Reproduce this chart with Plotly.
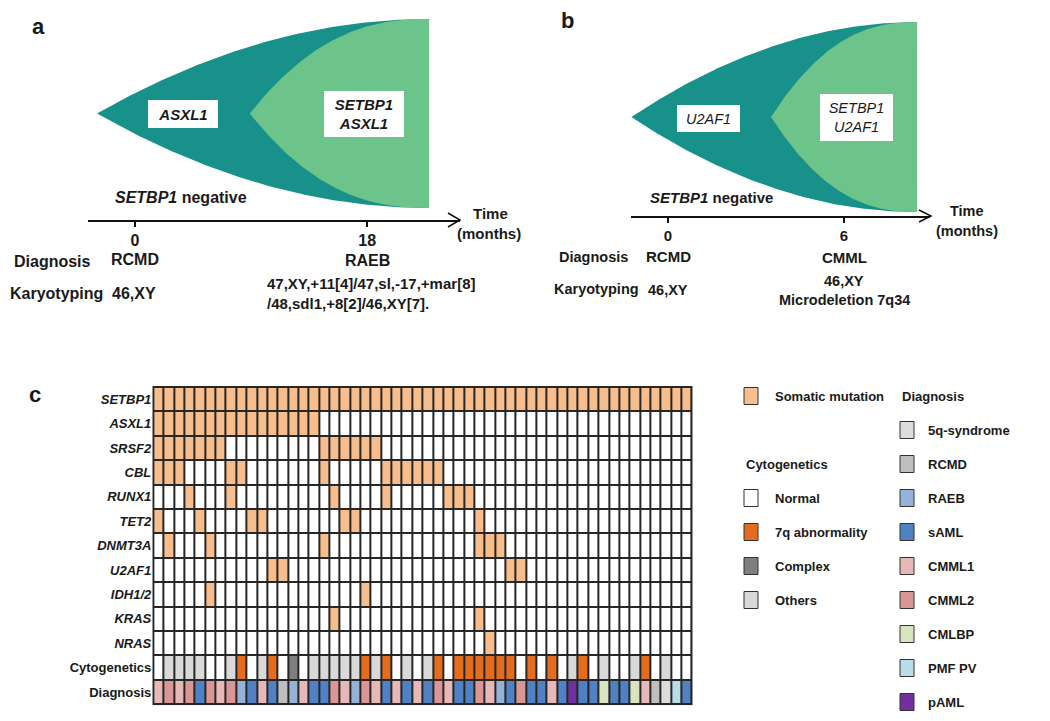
import plotly.graph_objects as go

# The page body has an 8px margin; coordinates below are screen pixels.
OX, OY = 8, 8
W, H = 1050 - OX, 721 - OY
FONT = "Liberation Sans, Arial, sans-serif"
INK = "#1a1a1a"

# ---------------- data: panel c (52 patients) ----------------
genes = ["SETBP1", "ASXL1", "SRSF2", "CBL", "RUNX1", "TET2",
         "DNMT3A", "U2AF1", "IDH1/2", "KRAS", "NRAS"]
# 1 = somatic mutation, 0 = wild type (patients in groups of 10)
mut_SETBP1 = "1111111111 1111111111 1111111111 1111111111 1111111111 11"
mut_ASXL1  = "1111111111 1111110000 0000000000 0000000000 0000000000 00"
mut_SRSF2  = "1111111000 0000001111 1100000000 0000000000 0000000000 00"
mut_CBL    = "1110000110 0000001000 0011111100 0000000000 0000000000 00"
mut_RUNX1  = "0001000100 0000000100 0010000011 1000000000 0000000000 00"
mut_TET2   = "1000100001 1000000011 0000000000 0100000000 0000000000 00"
mut_DNMT3A = "0100010000 0000001000 0000000000 0111000000 0000000000 00"
mut_U2AF1  = "0000000000 0110000000 0000000000 0000110000 0000000000 00"
mut_IDH    = "0000010000 0000000000 1000000000 0000000000 0000000000 00"
mut_KRAS   = "0000000000 0000000100 0000000000 0100000000 0000000000 00"
mut_NRAS   = "0000000000 0000000000 0000000000 0010000000 0000000000 00"
mutations = [mut_SETBP1, mut_ASXL1, mut_SRSF2, mut_CBL, mut_RUNX1, mut_TET2,
             mut_DNMT3A, mut_U2AF1, mut_IDH, mut_KRAS, mut_NRAS]

# cytogenetics: N normal, Q 7q abnormality, C complex, O others
cytogenetics = ("NOOOONNOQN" "OQNCNOOOOO" "QOQNONOQNQ"
                "QQQQQNQNQN" "OQNONNOQNO" "NN")
diagnosis = ["CMML1", "CMML2", "CMML1", "CMML2", "sAML", "CMML2", "CMML1", "CMML2", "RAEB", "sAML",
             "CMML1", "sAML", "RCMD", "RAEB", "CMML1", "sAML", "sAML", "CMML2", "CMML1", "RAEB",
             "CMML2", "CMML1", "sAML", "CMML1", "sAML", "CMML1", "sAML", "CMML2", "CMML1", "sAML",
             "sAML", "CMML2", "CMML1", "RAEB", "sAML", "CMML2", "sAML", "sAML", "CMML1", "sAML",
             "pAML", "sAML", "sAML", "CMLBP", "sAML", "sAML", "CMLBP", "CMML1", "RCMD", "5q-syndrome",
             "PMF PV", "sAML"]

mut_color = "#F7BD8C"
cyto_labels = ["Normal", "7q abnormality", "Complex", "Others"]
cyto_codes = ["N", "Q", "C", "O"]
cyto_colors = ["#FFFFFF", "#E46C1E", "#7F7F7F", "#D9D9D9"]
diag_labels = ["5q-syndrome", "RCMD", "RAEB", "sAML", "CMML1", "CMML2", "CMLBP", "PMF PV", "pAML"]
diag_colors = ["#DCDCDC", "#BFBFBF", "#95B3D7", "#4F81C4", "#E6B9B8", "#D99694",
               "#D7E4BD", "#B7DEE8", "#7030A0"]

# ---------------- data: panels a and b (clonal evolution) ----------------
a_ticks = [0, 18]
a_diag = ["RCMD", "RAEB"]
a_karyo = ["46,XY", "47,XY,+11[4]/47,sl,-17,+mar[8]", "/48,sdl1,+8[2]/46,XY[7]."]
a_clone_start = [-2.95, 8.9]     # months: ASXL1 clone, SETBP1+ASXL1 clone
a_end = 22.8
a_clones = ["<b><i>ASXL1</i></b>", "<b><i>SETBP1</i></b><br><b><i>ASXL1</i></b>"]

b_ticks = [0, 6]
b_diag = ["RCMD", "CMML"]
b_karyo = ["46,XY", "46,XY", "Microdeletion 7q34"]
b_clone_start = [-1.25, 3.51]    # months: U2AF1 clone, SETBP1+U2AF1 clone
b_end = 8.49
b_clones = ["<i>U2AF1</i>", "<i>SETBP1</i><br><i>U2AF1</i>"]

TEAL = "#17918A"
GREEN = "#6DC48B"


def px(x):
    return (x - OX) / W


def py(y):
    return 1 - (y - OY) / H


def fish(t0, t1, p, n=120):
    xs = [t0 + (t1 - t0) * i / n for i in range(n + 1)]
    up = [1 - (1 - (x - t0) / (t1 - t0)) ** p for x in xs]
    return xs + xs[::-1], up + [-u for u in up[::-1]]


fig = go.Figure()

# invisible full-figure pixel axis for annotations / legend
fig.add_trace(go.Scatter(x=[OX], y=[OY], mode="markers", marker=dict(opacity=0),
                         hoverinfo="skip", showlegend=False, xaxis="x", yaxis="y"))

# fish plots
for (starts, end, xa, ya) in [(a_clone_start, a_end, "x2", "y2"),
                              (b_clone_start, b_end, "x3", "y3")]:
    X, Y = fish(starts[0], end, 2.0)
    fig.add_trace(go.Scatter(x=X, y=Y, fill="toself", fillcolor=TEAL, mode="lines",
                             line=dict(width=0, color=TEAL), hoverinfo="skip",
                             showlegend=False, xaxis=xa, yaxis=ya))
    X, Y = fish(starts[1], end, 2.4)
    fig.add_trace(go.Scatter(x=X, y=Y, fill="toself", fillcolor=GREEN, mode="lines",
                             line=dict(width=0, color=GREEN), hoverinfo="skip",
                             showlegend=False, xaxis=xa, yaxis=ya))

# heatmap
color_list = ["#FFFFFF", mut_color] + cyto_colors[1:] + diag_colors
code_of = {"none": 0, "mut": 1}
for c in cyto_codes[1:]:
    code_of["cyto_" + c] = len(code_of)
for lab in diag_labels:
    code_of["diag_" + lab] = len(code_of)
code_of["cyto_N"] = 0

z = []
for m in mutations:
    s = m.replace(" ", "")
    z.append([1 if ch == "1" else 0 for ch in s])
z.append([code_of["cyto_" + ch] for ch in cytogenetics])
z.append([code_of["diag_" + d] for d in diagnosis])

n = len(color_list)
cscale = []
for k, c in enumerate(color_list):
    cscale.append([k / n, c])
    cscale.append([(k + 1) / n, c])

row_names = genes + ["Cytogenetics", "Diagnosis"]
npat = len(diagnosis)
nrow = len(row_names)
fig.add_trace(go.Heatmap(z=z, x=list(range(npat)), y=list(range(nrow)),
                         colorscale=cscale, zmin=-0.5, zmax=n - 0.5, showscale=False,
                         xgap=2, ygap=2, hoverinfo="skip", xaxis="x4", yaxis="y4"))

shapes = []
ann = []

# dark grid behind heatmap (shows through the cell gaps)
shapes.append(dict(type="rect", xref="x4", yref="y4", x0=-0.6, x1=npat - 0.4,
                   y0=-0.54, y1=nrow - 0.46,
                   fillcolor="#262626", line=dict(width=0), layer="below"))


def T(x, y, s, size=15, xanchor="left", color=INK):
    ann.append(dict(x=x, y=y, xref="x", yref="y", text=s, showarrow=False,
                    xanchor=xanchor, yanchor="middle",
                    font=dict(size=size, family=FONT, color=color)))


def box(x, y, s, w, h, size=15):
    ann.append(dict(x=x, y=y, xref="x", yref="y", text=s, showarrow=False,
                    xanchor="center", yanchor="middle", width=w, height=h,
                    bgcolor="white", borderpad=0, borderwidth=0, align="center",
                    font=dict(size=size, family=FONT, color=INK)))


# ---- panel a text ----
T(38, 26, "<b>a</b>", 22, "center")
box(183, 114, a_clones[0], 70, 28)
box(364, 114, a_clones[1], 80, 46)
T(113, 197, "<b><i>SETBP1</i> negative</b>", 16)
T(490, 213, "<b>Time</b>", 15, "center")
T(489, 233, "<b>(months)</b>", 15, "center")
T(12, 261, "<b>Diagnosis</b>", 16)
T(135, 259, "<b>%s</b>" % a_diag[0], 16, "center")
T(367, 260, "<b>%s</b>" % a_diag[1], 16, "center")
T(8, 293, "<b>Karyotyping</b>", 16)
T(110, 293, "<b>%s</b>" % a_karyo[0], 16)
T(265, 283, "<b>%s</b>" % a_karyo[1], 15)
T(265, 303, "<b>%s</b>" % a_karyo[2], 15)
shapes.append(dict(type="path", xref="x", yref="y", path="M 448,213 L 460,220 L 448,227",
                   line=dict(color="#111", width=1.5)))

# ---- panel b text ----
T(567, 20, "<b>b</b>", 22, "center")
box(708.5, 118.5, b_clones[0], 63, 27, 14.5)
box(856.5, 117.5, b_clones[1], 73, 47, 14.5)
T(648, 197, "<b><i>SETBP1</i> negative</b>", 15)
T(967, 211, "<b>Time</b>", 14.5, "center")
T(967, 231, "<b>(months)</b>", 14.5, "center")
T(557, 257, "<b>Diagnosis</b>", 14.5)
T(668, 256, "<b>%s</b>" % b_diag[0], 15, "center")
T(844, 257, "<b>%s</b>" % b_diag[1], 15, "center")
T(552, 289, "<b>Karyotyping</b>", 14.5)
T(646, 290, "<b>%s</b>" % b_karyo[0], 14.5)
T(844, 281, "<b>%s</b>" % b_karyo[1], 14.5, "center")
T(844, 300, "<b>%s</b>" % b_karyo[2], 14.5, "center")
shapes.append(dict(type="path", xref="x", yref="y", path="M 919,210 L 931,216 L 919,222",
                   line=dict(color="#111", width=1.5)))

# ---- panel c ----
T(35, 394, "<b>c</b>", 22, "center")


def swatch(x, yc, color):
    shapes.append(dict(type="rect", xref="x", yref="y", x0=x, x1=x + 14, y0=yc - 8.5, y1=yc + 8.5,
                       fillcolor=color, line=dict(color="#333", width=1)))


swatch(744, 396, mut_color)
T(773, 396, "<b>Somatic mutation</b>", 13)
T(744, 464, "<b>Cytogenetics</b>", 13)
for k, (lab, col) in enumerate(zip(cyto_labels, cyto_colors)):
    swatch(744, 498 + 34 * k, col)
    T(773, 498 + 34 * k, "<b>%s</b>" % lab, 13)
T(900, 396, "<b>Diagnosis</b>", 13)
for k, (lab, col) in enumerate(zip(diag_labels, diag_colors)):
    swatch(900, 430 + 34 * k, col)
    T(926, 430 + 34 * k, "<b>%s</b>" % lab, 13)

tick_text = ["<b><i>%s</i></b>" % g for g in genes] + ["<b>Cytogenetics</b>", "<b>Diagnosis</b>"]

fig.update_layout(
    width=W, height=H, margin=dict(l=0, r=0, t=0, b=0),
    paper_bgcolor="white", plot_bgcolor="white", showlegend=False,
    font=dict(family=FONT, color=INK),
    xaxis=dict(domain=[0, 1], range=[OX, OX + W], visible=False, fixedrange=True),
    yaxis=dict(domain=[0, 1], range=[OY + H, OY], visible=False, fixedrange=True),
    xaxis2=dict(domain=[px(88), px(460)], range=[-3.65, 25.2], anchor="y2",
                showline=True, linecolor="#111", linewidth=1.5, ticks="outside",
                tickvals=a_ticks, ticklen=5, tickwidth=1.5, tickcolor="#111",
                tickfont=dict(size=16, family=FONT, color=INK, weight="bold"),
                showgrid=False, zeroline=False, fixedrange=True),
    yaxis2=dict(domain=[py(220), py(15)], range=[-1.127, 1.042], anchor="x2",
                visible=False, fixedrange=True),
    xaxis3=dict(domain=[px(631), px(930)], range=[-1.261, 8.93], anchor="y3",
                showline=True, linecolor="#111", linewidth=1.5, ticks="outside",
                tickvals=b_ticks, ticklen=5, tickwidth=1.5, tickcolor="#111",
                tickfont=dict(size=15, family=FONT, color=INK, weight="bold"),
                showgrid=False, zeroline=False, fixedrange=True),
    yaxis3=dict(domain=[py(216), py(15)], range=[-1.042, 1.074], anchor="x3",
                visible=False, fixedrange=True),
    xaxis4=dict(domain=[px(152.3), px(692.7)], range=[-0.6, npat - 0.4], anchor="y4",
                showticklabels=False, ticks="", showgrid=False, zeroline=False,
                showline=False, fixedrange=True),
    yaxis4=dict(domain=[py(705.2), py(386)], range=[nrow - 0.46, -0.54], anchor="x4",
                tickvals=list(range(nrow)), ticktext=tick_text, ticks="",
                tickfont=dict(size=13, family=FONT, color=INK),
                showgrid=False, zeroline=False, showline=False, fixedrange=True),
    shapes=shapes, annotations=ann,
)

fig.write_html("out.html")
